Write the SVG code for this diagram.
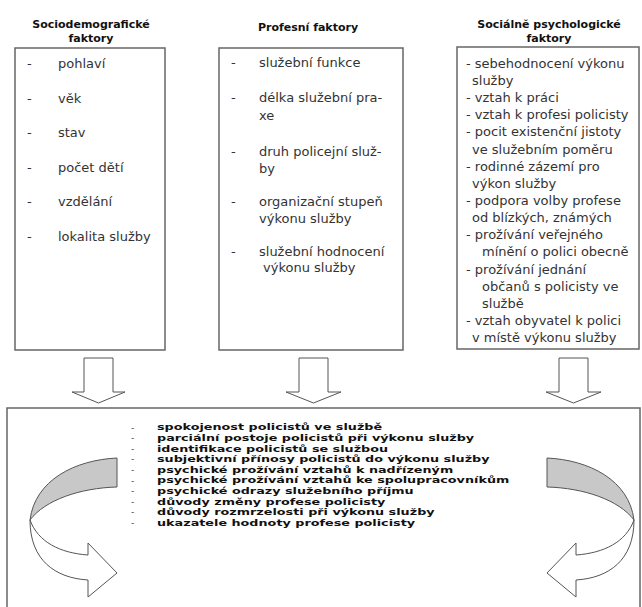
<svg xmlns="http://www.w3.org/2000/svg" width="642" height="607" viewBox="0 0 642 607">
  <defs>
    <style>
      .box { fill: #ffffff; stroke: #666666; stroke-width: 1.5; }
      .hdr { font-family: "DejaVu Sans", "Liberation Sans", sans-serif; font-weight: bold; font-size: 11px; fill: #111111; text-anchor: middle; }
      .it { font-family: "DejaVu Sans", "Liberation Sans", sans-serif; font-size: 13px; fill: #333333; }
      .itr { font-family: "DejaVu Sans", "Liberation Sans", sans-serif; font-size: 13px; fill: #333333; }
      .bt { font-family: "DejaVu Sans", "Liberation Sans", sans-serif; font-weight: bold; font-size: 9px; fill: #111111; }
      .bd { font-family: "DejaVu Sans", "Liberation Sans", sans-serif; font-size: 9px; fill: #444444; }
      .down { fill: #ffffff; stroke: #555555; stroke-width: 1; }
      .band { fill: #c8c8c8; stroke: #555555; stroke-width: 1; }
      .front { fill: #ffffff; stroke: #555555; stroke-width: 1; }
    </style>
    <g id="curved">
      <path class="band" d="M117,458 C75,460 35,480 30,520 C45,500 80,488 117,487 Z"/>
      <path class="front" d="M30,520 C38,542 60,553 88,555 L88,543 L117,573 L88,597 L88,580 C55,578 30,560 30,520 Z"/>
    </g>
  </defs>

  <rect width="642" height="607" fill="#ffffff"/>

  <g id="sociodemograficke">
    <text class="hdr" x="91" y="28">Sociodemografické</text>
    <text class="hdr" x="91" y="42">faktory</text>
    <rect class="box" x="15" y="48" width="150" height="302"/>
    <text class="it" x="27" y="68">-</text><text class="it" x="58" y="68">pohlaví</text>
    <text class="it" x="27" y="103">-</text><text class="it" x="58" y="103">věk</text>
    <text class="it" x="27" y="137">-</text><text class="it" x="58" y="137">stav</text>
    <text class="it" x="27" y="172">-</text><text class="it" x="58" y="172">počet dětí</text>
    <text class="it" x="27" y="206">-</text><text class="it" x="58" y="206">vzdělání</text>
    <text class="it" x="27" y="241">-</text><text class="it" x="58" y="241">lokalita služby</text>
  </g>

  <g id="profesni">
    <text class="hdr" x="308" y="31">Profesní faktory</text>
    <rect class="box" x="219" y="48" width="184" height="302"/>
    <text class="it" x="231" y="67">-</text><text class="it" x="259" y="67">služební funkce</text>
    <text class="it" x="231" y="102">-</text><text class="it" x="259" y="102">délka služební pra-</text>
    <text class="it" x="259" y="120">xe</text>
    <text class="it" x="231" y="156">-</text><text class="it" x="259" y="156">druh policejní služ-</text>
    <text class="it" x="259" y="173">by</text>
    <text class="it" x="231" y="206">-</text><text class="it" x="259" y="206">organizační stupeň</text>
    <text class="it" x="259" y="223">výkonu služby</text>
    <text class="it" x="231" y="256">-</text><text class="it" x="259" y="256">služební hodnocení</text>
    <text class="it" x="263" y="272">výkonu služby</text>
  </g>

  <g id="socialne-psychologicke">
    <text class="hdr" x="549" y="28">Sociálně psychologické</text>
    <text class="hdr" x="549" y="42">faktory</text>
    <rect class="box" x="457" y="47" width="182" height="302"/>
    <text class="itr" x="466" y="68">- sebehodnocení výkonu</text>
    <text class="itr" x="472" y="85">služby</text>
    <text class="itr" x="466" y="102">- vztah k práci</text>
    <text class="itr" x="466" y="119">- vztah k profesi policisty</text>
    <text class="itr" x="466" y="136">- pocit existenční jistoty</text>
    <text class="itr" x="472" y="154">ve služebním poměru</text>
    <text class="itr" x="466" y="171">- rodinné zázemí pro</text>
    <text class="itr" x="472" y="188">výkon služby</text>
    <text class="itr" x="466" y="205">- podpora volby profese</text>
    <text class="itr" x="472" y="222">od blízkých, známých</text>
    <text class="itr" x="466" y="239">- prožívání veřejného</text>
    <text class="itr" x="482" y="256">mínění o polici obecně</text>
    <text class="itr" x="466" y="274">- prožívání jednání</text>
    <text class="itr" x="482" y="291">občanů s policisty ve</text>
    <text class="itr" x="482" y="308">službě</text>
    <text class="itr" x="466" y="325">- vztah obyvatel k polici</text>
    <text class="itr" x="472" y="342">v místě výkonu služby</text>
  </g>

  <g id="connectors">
    <path class="down" d="M84,358 L113,358 L113,392 L125,392 L98.5,403 L72,392 L84,392 Z"/>
    <path class="down" d="M299,358 L328,358 L328,392 L341,392 L313.5,403 L286,392 L299,392 Z"/>
    <path class="down" d="M559,358 L588,358 L588,392 L601,392 L573.5,403 L546,392 L559,392 Z"/>
  </g>

  <g id="dusledky">
    <rect class="box" x="7" y="408" width="633" height="215"/>
    <use href="#curved"/>
    <use href="#curved" transform="translate(664,0) scale(-1,1)"/>
    <text class="bd" x="131" y="430.5">-</text>
    <text class="bd" x="131" y="441.1">-</text>
    <text class="bd" x="131" y="451.7">-</text>
    <text class="bd" x="131" y="462.3">-</text>
    <text class="bd" x="131" y="472.9">-</text>
    <text class="bd" x="131" y="483.5">-</text>
    <text class="bd" x="131" y="494.1">-</text>
    <text class="bd" x="131" y="504.7">-</text>
    <text class="bd" x="131" y="515.3">-</text>
    <text class="bd" x="131" y="525.9">-</text>
    <g transform="matrix(1.42,0,0,1,-65.94,0)">
      <text class="bt" x="157" y="430.5">spokojenost policistů ve službě</text>
      <text class="bt" x="157" y="441.1">parciální postoje policistů při výkonu služby</text>
      <text class="bt" x="157" y="451.7">identifikace policistů se službou</text>
      <text class="bt" x="157" y="462.3">subjektivní přínosy policistů do výkonu služby</text>
      <text class="bt" x="157" y="472.9">psychické prožívání vztahů k nadřízeným</text>
      <text class="bt" x="157" y="483.5">psychické prožívání vztahů ke spolupracovníkům</text>
      <text class="bt" x="157" y="494.1">psychické odrazy služebního příjmu</text>
      <text class="bt" x="157" y="504.7">důvody změny profese policisty</text>
      <text class="bt" x="157" y="515.3">důvody rozmrzelosti při výkonu služby</text>
      <text class="bt" x="157" y="525.9">ukazatele hodnoty profese policisty</text>
    </g>
  </g>
</svg>
